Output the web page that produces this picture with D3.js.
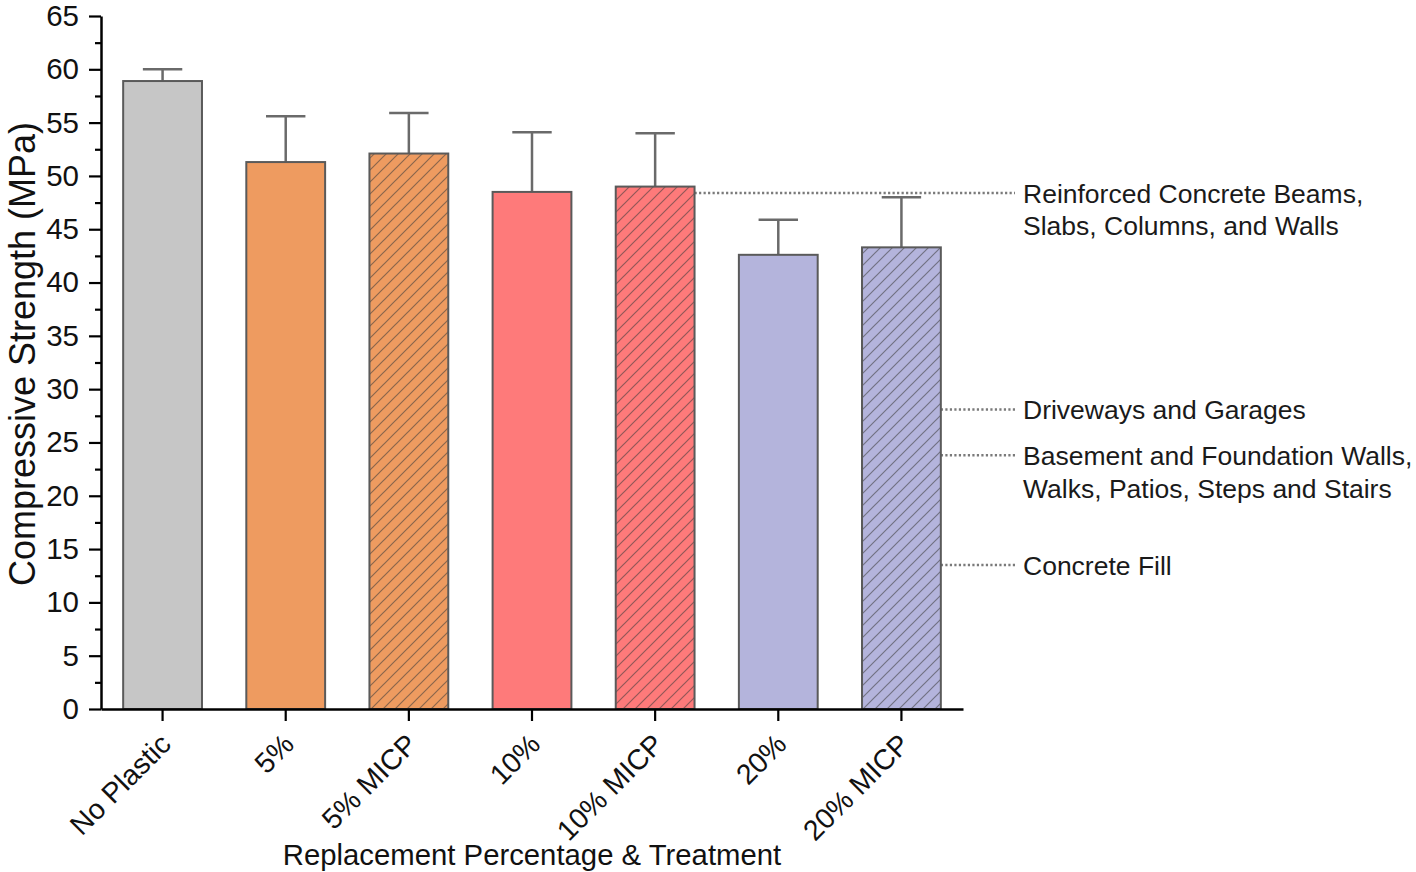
<!DOCTYPE html>
<html>
<head>
<meta charset="utf-8">
<script src="https://cdn.jsdelivr.net/npm/d3@7"></script>
<style>
  body { margin: 0; background: #fff; }
  svg { display: block; font-family: "Liberation Sans", Arial, sans-serif; }
</style>
</head>
<body>
<svg id="chart"></svg>
<script>
// Data
var categories = ["No Plastic", "5%", "5% MICP", "10%", "10% MICP", "20%", "20% MICP"];
var strength = [58.9, 51.3, 52.1, 48.5, 49.0, 42.6, 43.3];
var errorSD = [1.1, 4.3, 3.8, 5.6, 5.0, 3.3, 4.7];
var groups = ["none", "5", "5", "10", "10", "20", "20"];
var treated = [false, false, true, false, true, false, true];
var yTicks = [0, 5, 10, 15, 20, 25, 30, 35, 40, 45, 50, 55, 60, 65];

// Reference strength levels for applications
var annoLabels = [
  ["Reinforced Concrete Beams,", "Slabs, Columns, and Walls"],
  ["Driveways and Garages"],
  ["Basement and Foundation Walls,", "Walks, Patios, Steps and Stairs"],
  ["Concrete Fill"]
];
var annoValues = [48.4, 28.1, 23.8, 13.5];
var annoFrom = ["10% MICP", "20% MICP", "20% MICP", "20% MICP"];

var W = 1416, H = 872;
var svg = d3.select("#chart").attr("width", W).attr("height", H);

var x = d3.scaleBand()
    .domain(categories)
    .range([101, 963])
    .paddingInner(0.36)
    .paddingOuter(0.18);

var y = d3.scaleLinear()
    .domain([0, 65])
    .range([709, 16]);

var color = d3.scaleOrdinal()
    .domain(["none", "5", "10", "20"])
    .range(["#c6c6c6", "#ee9b60", "#fe7a7a", "#b4b4dc"]);

// hatch patterns, one per colour
var hs = 12;
var defs = svg.append("defs");
color.domain().forEach(function(g) {
  var p = defs.append("pattern")
      .attr("id", "hatch-" + g)
      .attr("patternUnits", "userSpaceOnUse")
      .attr("width", hs)
      .attr("height", hs);
  p.append("rect").attr("width", hs).attr("height", hs).attr("fill", color(g));
  p.append("path")
      .attr("d", "M-3,3 L3,-3 M0," + hs + " L" + hs + ",0 M" + (hs - 3) + "," + (hs + 3) + " L" + (hs + 3) + "," + (hs - 3))
      .attr("stroke", "#3a3a3a")
      .attr("stroke-opacity", 0.55)
      .attr("stroke-width", 1.2);
});

// dotted reference lines + labels
annoValues.forEach(function(v, i) {
  var x0 = x(annoFrom[i]) + x.bandwidth();
  svg.append("line")
      .attr("x1", x0)
      .attr("x2", 1015)
      .attr("y1", y(v))
      .attr("y2", y(v))
      .attr("stroke", "#7a7a7a")
      .attr("stroke-width", 2.5)
      .attr("stroke-dasharray", "2.2,2.3");
  var t = svg.append("text")
      .attr("x", 1023)
      .attr("y", y(v))
      .attr("font-size", 26.5)
      .attr("fill", "#1a1a1a");
  annoLabels[i].forEach(function(s, k) {
    t.append("tspan")
        .attr("x", 1023)
        .attr("dy", k == 0 ? "0.36em" : "1.24em")
        .text(s);
  });
});

// error bars
var bars = categories.map(function(c, i) {
  return {cat: c, value: strength[i], sd: errorSD[i], group: groups[i], hatch: treated[i]};
});

var capHalf = x.bandwidth() / 4;
var err = svg.selectAll(".err")
    .data(bars)
    .enter().append("g")
    .attr("class", "err")
    .attr("stroke", "#6a6a6a")
    .attr("stroke-width", 2.5);
err.append("line")
    .attr("x1", d => x(d.cat) + x.bandwidth() / 2)
    .attr("x2", d => x(d.cat) + x.bandwidth() / 2)
    .attr("y1", d => y(d.value))
    .attr("y2", d => y(d.value + d.sd));
err.append("line")
    .attr("x1", d => x(d.cat) + x.bandwidth() / 2 - capHalf)
    .attr("x2", d => x(d.cat) + x.bandwidth() / 2 + capHalf)
    .attr("y1", d => y(d.value + d.sd))
    .attr("y2", d => y(d.value + d.sd));

// bars
svg.selectAll(".bar")
    .data(bars)
    .enter().append("rect")
    .attr("class", "bar")
    .attr("x", d => x(d.cat))
    .attr("y", d => y(d.value))
    .attr("width", x.bandwidth())
    .attr("height", d => y(0) - y(d.value))
    .attr("fill", d => d.hatch ? "url(#hatch-" + d.group + ")" : color(d.group))
    .attr("stroke", "#5a5a5a")
    .attr("stroke-width", 2);

// y axis (major + minor ticks)
var yAxis = svg.append("g")
    .attr("transform", "translate(101,0)")
    .call(d3.axisLeft(y)
        .tickValues(yTicks)
        .tickSize(12)
        .tickSizeOuter(0)
        .tickPadding(10));
svg.append("g")
    .attr("transform", "translate(101,0)")
    .call(d3.axisLeft(y)
        .tickValues(d3.range(2.5, 65, 5))
        .tickSize(6)
        .tickFormat(""))
    .call(g => g.select(".domain").remove())
    .selectAll("line").attr("stroke-width", 2.2).attr("stroke", "#000");
yAxis.select(".domain").attr("stroke-width", 2.5);
yAxis.selectAll(".tick line").attr("stroke-width", 2.2);
yAxis.selectAll("text")
    .attr("font-size", 29.5)
    .attr("font-family", "Liberation Sans, Arial, sans-serif")
    .attr("fill", "#111");

// x axis
var xAxis = svg.append("g")
    .attr("transform", "translate(0,709)")
    .call(d3.axisBottom(x)
        .tickSize(12)
        .tickSizeOuter(0));
xAxis.select(".domain").attr("stroke-width", 2.5);
xAxis.selectAll(".tick line").attr("stroke-width", 2.2);
xAxis.selectAll("text")
    .attr("font-size", 28.5)
    .attr("font-family", "Liberation Sans, Arial, sans-serif")
    .attr("fill", "#111")
    .attr("text-anchor", "end")
    .attr("x", 0)
    .attr("y", 0)
    .attr("dy", 0)
    .attr("transform", "translate(10,37) rotate(-45)");

// axis titles
svg.append("text")
    .attr("transform", "translate(35,354) rotate(-90)")
    .attr("text-anchor", "middle")
    .attr("font-size", 36)
    .attr("fill", "#111")
    .text("Compressive Strength (MPa)");

svg.append("text")
    .attr("x", 532)
    .attr("y", 865)
    .attr("text-anchor", "middle")
    .attr("font-size", 29.3)
    .attr("fill", "#111")
    .text("Replacement Percentage & Treatment");
</script>
</body>
</html>
